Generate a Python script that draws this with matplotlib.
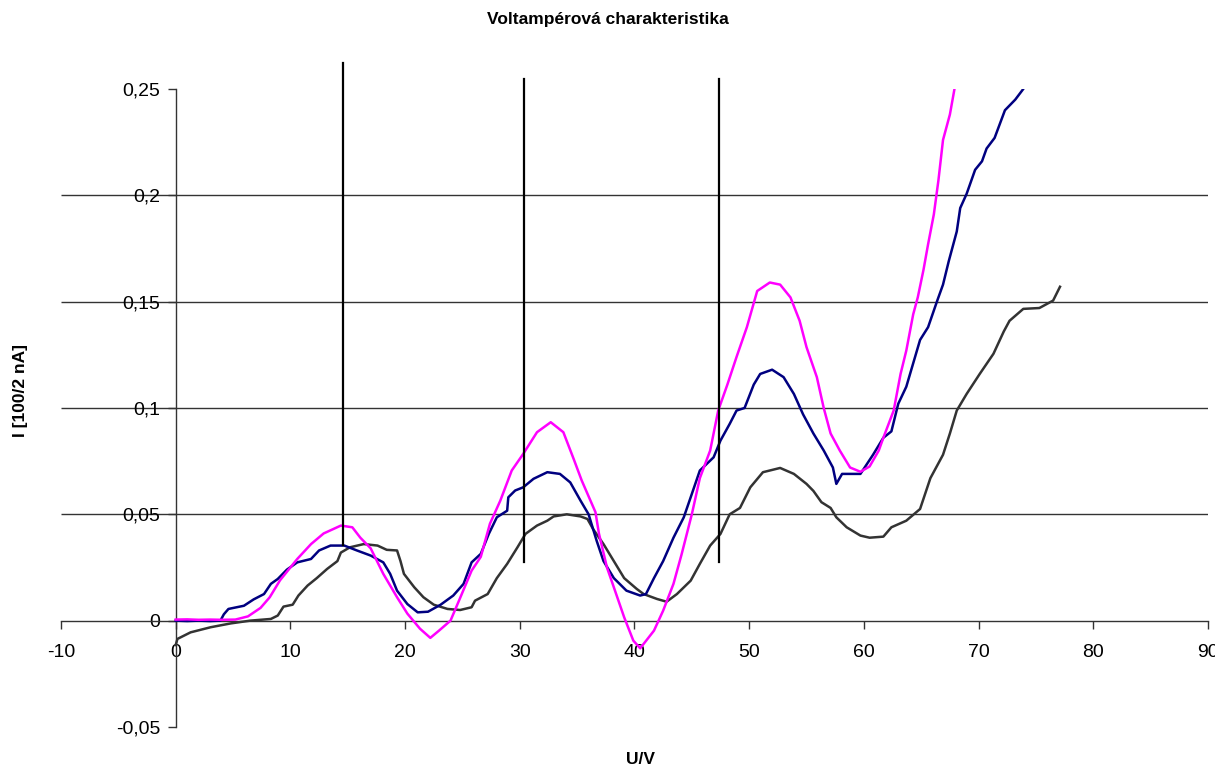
import matplotlib
matplotlib.use("Agg")
import matplotlib.pyplot as plt

plt.rcParams['font.family'] = ['Liberation Sans', 'DejaVu Sans']

# magenta series
u_mag = [0, 1, 2, 3, 4, 5.2, 6.3, 7.4, 8.2, 9.1, 10.6, 11.8, 12.9, 14.4, 15.4, 16.1, 17.0,
         18.1, 19.3, 20.2, 21.3, 22.2, 23.0, 23.96, 24.7, 25.8, 26.6, 27.4, 28.3, 29.3,
         30.3, 31.5, 32.7, 33.8, 34.7, 35.4, 36.6, 36.9, 37.6, 38.2, 39.1, 39.9, 40.5,
         41.7, 42.5, 43.4, 44.1, 45.0, 45.7, 46.6, 47.3, 48.1, 48.9, 49.8, 50.7, 51.8,
         52.7, 53.6, 54.4, 55.0, 55.9, 56.5, 57.1, 57.9, 58.8, 59.7, 60.5, 61.3, 61.7,
         62.6, 63.2, 63.7, 64.3, 64.7, 65.2, 65.6, 66.1, 66.5, 66.9, 67.5, 67.9, 68.3]
i_mag = [0.0005, 0.0006, 0.0004, 0.0005, 0.0004, 0.0005, 0.002, 0.006, 0.011, 0.019, 0.029,
         0.036, 0.041, 0.0447, 0.0439, 0.039, 0.034, 0.022, 0.011, 0.0033, -0.0038, -0.0081,
         -0.0045, 0.0, 0.0094, 0.0235, 0.030, 0.0456, 0.0564, 0.0706, 0.0784, 0.0886, 0.0933,
         0.0886, 0.076, 0.0659, 0.051, 0.041, 0.025, 0.0157, 0.0016, -0.0094, -0.013, -0.0047,
         0.0047, 0.0173, 0.031, 0.050, 0.067, 0.080, 0.0988, 0.111, 0.124, 0.138, 0.155,
         0.159, 0.158, 0.152, 0.141, 0.1286, 0.1145, 0.100, 0.088, 0.080, 0.072, 0.070,
         0.0725, 0.0800, 0.086, 0.0988, 0.116, 0.127, 0.144, 0.152, 0.165, 0.177, 0.191,
         0.207, 0.226, 0.238, 0.250, 0.262]

# navy series
u_navy = [0, 1, 2, 3, 3.9, 4.2, 4.6, 5.95, 6.8, 7.7, 8.3, 8.9, 9.7, 10.6, 11.8, 12.5, 13.5,
          14.7, 15.8, 17.0, 18.1, 18.7, 19.3, 20.2, 21.1, 22.0, 23.1, 24.2, 25.1, 25.8,
          26.6, 27.3, 28.0, 28.9, 29.0, 29.6, 30.3, 31.2, 32.4, 33.5, 34.4, 35.3, 36.0,
          36.7, 37.3, 38.2, 39.3, 40.5, 41.0, 41.7, 42.5, 43.4, 44.3, 44.9, 45.7, 46.9,
          47.5, 48.3, 48.9, 49.6, 50.4, 50.96, 52.0, 53.0, 53.9, 54.7, 55.6, 56.5, 57.3,
          57.6, 58.1, 58.8, 59.7, 60.8, 61.7, 62.4, 63.0, 63.7, 64.3, 64.9, 65.6, 66.4,
          66.9, 67.4, 68.1, 68.4, 68.96, 69.7, 70.3, 70.7, 71.4, 72.3, 73.2, 73.9, 74.4]
i_navy = [0.0, -0.0002, 0.0, -0.0002, 0.0, 0.003, 0.0055, 0.007, 0.010, 0.0125, 0.0173,
          0.0196, 0.024, 0.0274, 0.029, 0.033, 0.0353, 0.0353, 0.033, 0.0306, 0.0274, 0.022,
          0.0141, 0.0078, 0.0039, 0.0042, 0.0075, 0.0118, 0.0173, 0.0274, 0.0314, 0.0408,
          0.0486, 0.0517, 0.058, 0.0612, 0.0627, 0.0667, 0.0698, 0.069, 0.065, 0.0564, 0.050,
          0.0376, 0.028, 0.020, 0.0141, 0.0118, 0.0125, 0.020, 0.028, 0.039, 0.0486, 0.058,
          0.0706, 0.0768, 0.0847, 0.0925, 0.0988, 0.100, 0.111, 0.116, 0.118, 0.1145, 0.1066,
          0.097, 0.088, 0.080, 0.072, 0.0643, 0.069, 0.069, 0.069, 0.078, 0.086, 0.089, 0.102,
          0.110, 0.121, 0.132, 0.138, 0.1505, 0.158, 0.169, 0.183, 0.194, 0.2007, 0.212, 0.216,
          0.222, 0.227, 0.240, 0.245, 0.250, 0.256]

# grey series
u_grey = [0, 0.15, 1.3, 3.05, 4.8, 6.5, 8.3, 8.9, 9.4, 10.2, 10.7, 11.5, 12.3, 13.2, 14.1,
          14.4, 15.2, 16.4, 17.6, 18.4, 19.3, 19.6, 19.9, 20.8, 21.6, 22.5, 23.7, 24.8, 25.8,
          26.1, 27.2, 28.0, 28.9, 29.8, 30.5, 31.5, 32.4, 32.95, 34.1, 35.3, 35.9, 36.4,
          37.3, 38.2, 39.1, 40.2, 40.8, 41.96, 42.8, 43.7, 44.9, 45.7, 46.6, 47.5, 48.3,
          49.2, 50.1, 51.2, 52.7, 53.9, 55.0, 55.6, 56.3, 57.1, 57.6, 58.5, 59.7, 60.5,
          61.7, 62.4, 63.7, 64.9, 65.8, 66.9, 67.5, 68.1, 68.96, 70.1, 71.3, 72.2, 72.7,
          73.9, 75.3, 76.5, 77.1]
i_grey = [-0.0115, -0.0086, -0.0055, -0.0031, -0.0013, 0.0, 0.0008, 0.0024, 0.0066, 0.0075,
          0.0118, 0.0165, 0.020, 0.0243, 0.028, 0.032, 0.0345, 0.036, 0.0353, 0.0333, 0.033,
          0.028, 0.022, 0.0157, 0.011, 0.0075, 0.0055, 0.005, 0.0063, 0.0094, 0.0125, 0.020,
          0.0267, 0.0345, 0.0408, 0.0447, 0.047, 0.049, 0.050, 0.049, 0.0478, 0.043, 0.036,
          0.028, 0.020, 0.0149, 0.0125, 0.0102, 0.0089, 0.0125, 0.0188, 0.0267, 0.0353,
          0.0408, 0.050, 0.053, 0.0627, 0.0698, 0.0718, 0.069, 0.0643, 0.061, 0.0557, 0.053,
          0.0486, 0.0439, 0.040, 0.039, 0.0395, 0.0439, 0.047, 0.0525, 0.067, 0.078, 0.088,
          0.0988, 0.1066, 0.116, 0.1255, 0.136, 0.141, 0.1466, 0.147, 0.1505, 0.157]

# vertical marker lines: position, lower end, upper end
mark_u = [14.61, 30.37, 47.41]
mark_lo = [0.0356, 0.0274, 0.0274]
mark_hi = [0.262, 0.2545, 0.2545]

grid_i = [0.05, 0.1, 0.15, 0.2]
xticks = [-10, 0, 10, 20, 30, 40, 50, 60, 70, 80, 90]
yticks = [-0.05, 0, 0.05, 0.1, 0.15, 0.2, 0.25]
ylabels = ['-0,05', '0', '0,05', '0,1', '0,15', '0,2', '0,25']

fig = plt.figure(figsize=(12.15, 7.71), dpi=100)
ax = fig.add_axes([0.0502, 0.0571, 0.9440, 0.8275])
ax.set_xlim(-10, 90)
ax.set_ylim(-0.05, 0.25)

ax.hlines(grid_i, -10, 90, colors='#333333', linewidth=1.0, zorder=1)

ax.plot(u_grey, i_grey, color='#333333', linewidth=1.8, zorder=3)
ax.plot(u_navy, i_navy, color='#000080', linewidth=1.8, zorder=4)
ax.plot(u_mag, i_mag, color='#FF00FF', linewidth=1.8, zorder=5)

for u, lo, hi in zip(mark_u, mark_lo, mark_hi):
    ax.plot([u, u], [lo, hi], color='black', linewidth=1.6, clip_on=False, zorder=6)

for s in ['top', 'right']:
    ax.spines[s].set_visible(False)
ax.spines['left'].set_position(('data', 0))
ax.spines['bottom'].set_position(('data', 0))
for s in ['left', 'bottom']:
    ax.spines[s].set_color('#333333')
    ax.spines[s].set_linewidth(1.0)

ax.set_xticks(xticks)
ax.set_xticklabels([str(t) for t in xticks])
ax.set_yticks(yticks)
ax.set_yticklabels(ylabels)
ax.tick_params(direction='out', length=6, width=1, color='#333333', labelsize=14)
ax.tick_params(axis='x', pad=11)
ax.tick_params(axis='y', pad=5)

fig.text(0.5, 0.975, 'Voltampérová charakteristika', ha='center', va='center',
         fontsize=12.5, fontweight='bold')
fig.text(0.527, 0.015, 'U/V', ha='center', va='center', fontsize=12.5, fontweight='bold')
fig.text(0.0165, 0.494, 'I [100/2 nA]', ha='center', va='center', rotation=90,
         fontsize=12.5, fontweight='bold')

fig.savefig('out.png', dpi=100)
